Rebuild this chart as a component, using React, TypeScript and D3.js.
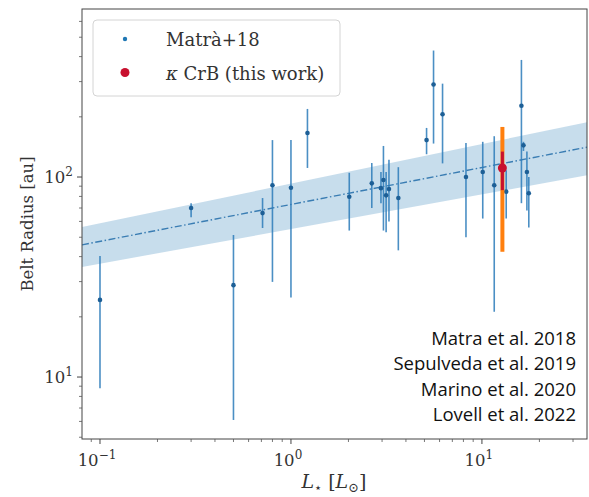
import React from "react";
import * as d3 from "d3";

// ---- data ----
const lum = [0.10, 0.30, 0.50, 0.71, 0.80, 1.00, 1.22, 2.02, 2.65, 2.96, 3.05, 3.15, 3.26, 3.65, 5.13, 5.58, 6.22, 8.25, 10.1, 11.6, 13.4, 16.1, 16.5, 17.2, 17.6];
const radius = [24.3, 70, 28.8, 66, 91, 88.4, 166, 79.7, 93, 88, 96.6, 81, 87, 78.5, 153, 290, 206, 100, 106, 91, 84.5, 227, 144, 106, 83];
const radiusLo = [8.8, 63, 6.1, 55.6, 29.9, 25, 111, 54, 70, 74, 54, 53, 60, 43, 130, 147, 117, 50, 62, 21.2, 62, 74, 135, 68, 56];
const radiusHi = [40.3, 74, 51.3, 78.5, 153, 153, 219, 105, 117.5, 106, 143, 106, 122, 112, 176, 429, 293, 148, 150, 160, 108, 385, 150, 134, 100];

const kcrbLum = [12.8];
const kcrbRadius = [111];
const kcrbLoA = [42.3];
const kcrbHiA = [178];
const kcrbLoB = [86];
const kcrbHiB = [134];

// fit R = 73 L^0.19 with its uncertainty band, at the axis ends
const fitLum = [0.0805, 35.5];
const fitMid = [45.8, 141];
const fitLow = [35.5, 102];
const fitHigh = [56.2, 188];

const xMajor = [0.1, 1, 10];
const xMajorExp = ["\u22121", "0", "1"];
const yMajor = [10, 100];
const yMajorExp = ["1", "2"];

const legendLabels = ["Matr\u00e0+18", "\u03ba CrB (this work)"];
const references = ["Matra et al. 2018", "Sepulveda et al. 2019", "Marino et al. 2020", "Lovell et al. 2022"];

const W = 589, H = 497;
const L = 82, R = 587, T = 9, B = 439;

export default function App() {
  const x = d3.scaleLog().domain([0.0805, 35.5]).range([L, R]);
  const y = d3.scaleLog().domain([4.9, 692]).range([B, T]);

  const xMinor: number[] = [];
  for (const d of [0.01, 0.1, 1, 10]) for (let k = 2; k <= 9; k++) {
    const v = d * k; if (v > 0.0805 && v < 35.5) xMinor.push(v);
  }
  const yMinor: number[] = [];
  for (const d of [1, 10, 100]) for (let k = 2; k <= 9; k++) {
    const v = d * k; if (v > 4.9 && v < 692) yMinor.push(v);
  }

  const area = d3.area<number>()
    .x((_, i) => x(fitLum[i]))
    .y0((_, i) => y(fitLow[i]))
    .y1((_, i) => y(fitHigh[i]));
  const line = d3.line<number>().x((_, i) => x(fitLum[i])).y((d) => y(d));

  const blue = "#2b7bba";
  const serif = "'DejaVu Serif', serif";

  return (
    <svg width={W} height={H} style={{ position: "absolute", left: 0, top: 0, background: "#fff" }}>
      <defs>
        <clipPath id="plot"><rect x={L} y={T} width={R - L} height={B - T} /></clipPath>
      </defs>
      <g clipPath="url(#plot)">
        <path d={area(fitLum) || ""} fill="#1f77b4" fillOpacity={0.25} />
        <path d={line(fitMid) || ""} fill="none" stroke="#3a7db3" strokeWidth={1.4} strokeDasharray="7,2.5,1.5,2.5" />
        {lum.map((l, i) => (
          <line key={"e" + i} x1={x(l)} x2={x(l)} y1={y(radiusLo[i])} y2={y(radiusHi[i])} stroke={blue} strokeOpacity={0.85} strokeWidth={1.6} />
        ))}
        {lum.map((l, i) => (
          <circle key={"p" + i} cx={x(l)} cy={y(radius[i])} r={2.3} fill="#1d5f96" />
        ))}
        {kcrbLum.map((l, i) => (
          <g key={"k" + i}>
            <line x1={x(l)} x2={x(l)} y1={y(kcrbLoA[i])} y2={y(kcrbHiA[i])} stroke="#ff7f0e" strokeWidth={4} />
            <line x1={x(l)} x2={x(l)} y1={y(kcrbLoB[i])} y2={y(kcrbHiB[i])} stroke="#c8102e" strokeWidth={3} />
            <circle cx={x(l)} cy={y(kcrbRadius[i])} r={4.5} fill="#c8102e" />
          </g>
        ))}
      </g>

      {/* frame */}
      <rect x={L} y={T} width={R - L} height={B - T} fill="none" stroke="#444" strokeWidth={1} />

      {/* x ticks */}
      {xMajor.map((v, i) => (
        <g key={"xm" + i}>
          <line x1={x(v)} x2={x(v)} y1={B} y2={B + 5} stroke="#444" />
          <text x={x(v) - 3} y={B + 27} textAnchor="middle" fontFamily={serif} fontSize={16.5} fill="#333">
            10<tspan dy={-7} fontSize={12}>{xMajorExp[i]}</tspan>
          </text>
        </g>
      ))}
      {xMinor.map((v, i) => (
        <line key={"xn" + i} x1={x(v)} x2={x(v)} y1={B} y2={B + 3} stroke="#555" strokeWidth={0.8} />
      ))}
      {/* y ticks */}
      {yMajor.map((v, i) => (
        <g key={"ym" + i}>
          <line x1={L - 5} x2={L} y1={y(v)} y2={y(v)} stroke="#444" />
          <text x={L - 9} y={y(v) + 6} textAnchor="end" fontFamily={serif} fontSize={16.5} fill="#333">
            10<tspan dy={-7} fontSize={12}>{yMajorExp[i]}</tspan>
          </text>
        </g>
      ))}
      {yMinor.map((v, i) => (
        <line key={"yn" + i} x1={L - 3} x2={L} y1={y(v)} y2={y(v)} stroke="#555" strokeWidth={0.8} />
      ))}

      {/* axis labels */}
      <text transform={`translate(33,${224}) rotate(-90)`} textAnchor="middle" fontFamily={serif} fontSize={16.5} fill="#333">
        Belt Radius [au]
      </text>
      <text x={334} y={488} textAnchor="middle" fontFamily={serif} fontSize={19} fill="#333">
        <tspan fontStyle="italic">L</tspan><tspan fontSize={13} dy={4}>{"\u22c6"}</tspan><tspan dy={-4}>{" ["}</tspan><tspan fontStyle="italic">L</tspan><tspan fontSize={13} dy={4}>{"\u2299"}</tspan><tspan dy={-4}>]</tspan>
      </text>

      {/* legend */}
      <rect x={93} y={20} width={247} height={76} rx={4} fill="#fff" fillOpacity={0.85} stroke="#d4d4d4" />
      <circle cx={125} cy={39} r={2.2} fill="#1f77b4" />
      <text x={166} y={46} fontFamily={serif} fontSize={18} fill="#333">{legendLabels[0]}</text>
      <circle cx={125} cy={72.5} r={4.5} fill="#c8102e" />
      <text x={166} y={80} fontFamily={serif} fontSize={18} fill="#333">
        <tspan fontStyle="italic">{"\u03ba"}</tspan>{legendLabels[1].slice(1)}
      </text>

      {/* references */}
      {references.map((r, i) => (
        <text key={"r" + i} x={576} y={345 + i * 25.3} textAnchor="end" fontFamily="'Open Sans', sans-serif" fontSize={18.5} fill="#111">{r}</text>
      ))}
    </svg>
  );
}
